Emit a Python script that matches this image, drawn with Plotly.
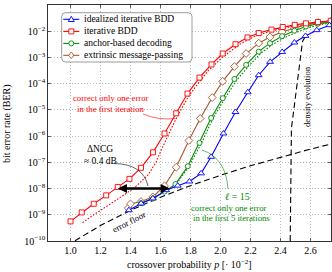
import plotly.graph_objects as go

# ---------------- data ----------------
p_ideal = [1.389, 1.471, 1.549, 1.638, 1.715, 1.793, 1.871, 1.938, 2.02, 2.10, 2.182,
           2.255, 2.331, 2.411, 2.493, 2.567, 2.642, 2.727]
ber_ideal = [1.5e-9, 2.7e-9, 4.2e-9, 8.7e-9, 1.29e-8, 1.86e-8, 3.8e-8, 1.62e-7, 1.26e-6,
             8.3e-6, 4.7e-5, 2.1e-4, 6.8e-4, 1.62e-3, 3.7e-3, 6.6e-3, 1.1e-2, 1.7e-2]

p_bdd = [1.0, 1.075, 1.155, 1.238, 1.315, 1.393, 1.47, 1.55, 1.627, 1.705, 1.78, 1.86,
         1.94, 2.015, 2.10, 2.18, 2.255, 2.34, 2.415, 2.495, 2.57, 2.65, 2.735]
ber_bdd = [5.6e-10, 1.23e-9, 2.63e-9, 5.5e-9, 1.15e-8, 2.34e-8, 6.2e-8, 2.4e-7, 1.26e-6,
           7.4e-6, 4.2e-5, 1.7e-4, 5.4e-4, 1.41e-3, 3.2e-3, 5.8e-3, 8.5e-3, 1.15e-2,
           1.45e-2, 1.74e-2, 2.0e-2, 2.24e-2, 2.5e-2]

p_bdd1 = [1.08, 1.155, 1.29, 1.42, 1.515, 1.57, 1.608, 1.646, 1.69, 1.736, 1.786, 1.85,
          1.92, 2.012, 2.13, 2.225, 2.335, 2.45, 2.56, 2.735]
ber_bdd1 = [5.0e-10, 1.0e-9, 3.2e-9, 1.0e-8, 3.2e-8, 1.0e-7, 3.2e-7, 1.0e-6, 3.2e-6,
            1.0e-5, 3.2e-5, 1.0e-4, 3.2e-4, 1.0e-3, 3.2e-3, 6.3e-3, 1.0e-2, 1.41e-2,
            1.78e-2, 2.1e-2]

p_anchor = [1.47, 1.55, 1.627, 1.70, 1.782, 1.86, 1.938, 2.015, 2.093, 2.171, 2.255,
            2.33, 2.411, 2.493, 2.57, 2.65, 2.735]
ber_anchor = [2.8e-9, 4.2e-9, 7.6e-9, 1.48e-8, 7.1e-8, 5.5e-7, 4.9e-6, 2.8e-5, 1.51e-4,
              5.2e-4, 1.66e-3, 3.5e-3, 6.5e-3, 1.05e-2, 1.51e-2, 1.95e-2, 2.24e-2]

p_anchor15 = [1.62, 1.70, 1.79, 1.875, 1.95, 2.03, 2.11, 2.19, 2.27, 2.35, 2.43, 2.51,
              2.59, 2.67, 2.735]
ber_anchor15 = [7.1e-9, 1.32e-8, 7.1e-8, 5.6e-7, 4.8e-6, 2.8e-5, 1.41e-4, 4.8e-4,
                1.45e-3, 3.2e-3, 5.8e-3, 9.3e-3, 1.38e-2, 1.78e-2, 2.04e-2]

p_emp = [1.385, 1.40, 1.47, 1.549, 1.627, 1.705, 1.789, 1.865, 1.945, 2.015, 2.093, 2.171,
         2.255, 2.33, 2.411, 2.493, 2.57, 2.65, 2.735]
ber_emp = [1.8e-9, 2.6e-9, 3.2e-9, 4.8e-9, 1.26e-8, 6.5e-8, 6.8e-7, 4.7e-6, 2.95e-5,
           1.23e-4, 4.5e-4, 1.41e-3, 3.5e-3, 6.0e-3, 9.3e-3, 1.32e-2, 1.78e-2, 2.14e-2,
           2.34e-2]

p_floor = [1.03, 1.2, 1.4, 1.6, 1.8, 2.0, 2.2, 2.4, 2.6, 2.737]
ber_floor = [1.02e-10, 3.9e-10, 1.48e-9, 4.7e-9, 1.29e-8, 3.2e-8, 7.4e-8, 1.58e-7,
             3.2e-7, 5.0e-7]

p_de = [2.465, 2.467, 2.469, 2.473, 2.497, 2.522, 2.547, 2.567]
ber_de = [1.0e-10, 3.6e-9, 1.2e-7, 2.0e-6, 2.3e-5, 3.2e-4, 4.1e-3, 6.5e-3]

x_ticks = [1.0, 1.2, 1.4, 1.6, 1.8, 2.0, 2.2, 2.4, 2.6]
x_labels = ["1.0", "1.2", "1.4", "1.6", "1.8", "2.0", "2.2", "2.4", "2.6"]
y_exps = [-10, -9, -8, -7, -6, -5, -4, -3, -2, -1]

names = ["idealized iterative BDD", "iterative BDD", "anchor-based decoding",
         "extrinsic message-passing"]

# ---------------- styles ----------------
BLUE, RED, GREEN, BROWN = "#0000ff", "#ff0000", "#008c00", "#a6562a"
FONT = "Liberation Serif"
W, H = 332, 272
ML, MR, MT, MB = 48, 1, 5, 31
PW, PH = W - ML - MR, H - MT - MB


def PX(px):
    return (px - ML) / PW


def PY(py):
    return (MT + PH - py) / PH


fig = go.Figure()


def curve(x, y, color, dash="solid", symbol=None, size=5, name=None):
    mode = "lines+markers" if symbol else "lines"
    fig.add_trace(go.Scatter(
        x=x, y=y, mode=mode, name=name,
        line=dict(color=color, width=1.1, dash=dash),
        marker=dict(symbol=symbol or "circle", size=size, color="white",
                    line=dict(color=color, width=0.9)),
        showlegend=False))


curve(p_floor, ber_floor, "black", dash="6px,3.5px")
curve(p_de, ber_de, "black", dash="6px,3.5px")
curve(p_bdd1, ber_bdd1, RED, dash="1.6px,1.6px")
curve(p_anchor15, ber_anchor15, GREEN, dash="1.6px,1.6px")
curve(p_emp, ber_emp, BROWN, symbol="diamond", size=6, name=names[3])
curve(p_anchor, ber_anchor, GREEN, symbol="circle", size=5, name=names[2])
curve(p_bdd, ber_bdd, RED, symbol="square", size=5, name=names[1])
curve(p_ideal, ber_ideal, BLUE, symbol="triangle-up", size=6, name=names[0])

shapes = []
annotations = []

# ---------------- manual compact legend ----------------
shapes.append(dict(type="path", xref="paper", yref="paper", layer="above",
                   path=("M {a},{b} L {c},{b} Q {d},{b} {d},{e} L {d},{f} Q {d},{g} {c},{g} "
                         "L {a},{g} Q {h},{g} {h},{f} L {h},{e} Q {h},{b} {a},{b} Z").format(
                       a=PX(65.5), c=PX(188), d=PX(192), h=PX(61.7),
                       b=PY(12.7), e=PY(16.5), f=PY(58.2), g=PY(62)),
                   fillcolor="white", line=dict(color="#707070", width=0.7)))
rows = [19.3, 31.4, 43.4, 55.3]
colors = [BLUE, RED, GREEN, BROWN]
for i, (row, col) in enumerate(zip(rows, colors)):
    shapes.append(dict(type="line", xref="paper", yref="paper", layer="above",
                       x0=PX(63.3), x1=PX(79.3), y0=PY(row), y1=PY(row),
                       line=dict(color=col, width=1.1)))
    common = dict(xref="paper", yref="paper", layer="above", xsizemode="pixel",
                  ysizemode="pixel", xanchor=PX(71.3), yanchor=PY(row),
                  fillcolor="white", line=dict(color=col, width=0.9))
    if i == 0:
        shapes.append(dict(type="path", path="M -3,-2.2 L 3,-2.2 L 0,3 Z", **common))
    elif i == 1:
        shapes.append(dict(type="rect", x0=-2.5, x1=2.5, y0=-2.5, y1=2.5, **common))
    elif i == 2:
        shapes.append(dict(type="circle", x0=-2.5, x1=2.5, y0=-2.5, y1=2.5, **common))
    else:
        shapes.append(dict(type="path", path="M 0,-3.3 L 2.6,0 L 0,3.3 L -2.6,0 Z", **common))
    annotations.append(dict(xref="paper", yref="paper", x=PX(81.5), y=PY(row),
                            xanchor="left", yanchor="middle", showarrow=False,
                            text=names[i], font=dict(family=FONT, size=9.5, color="black")))

# ---------------- annotations ----------------
def txt(x, y, s, color="black", size=8.7, angle=0):
    annotations.append(dict(xref="paper", yref="paper", x=PX(x), y=PY(y), text=s,
                            showarrow=False, xanchor="center", yanchor="middle",
                            textangle=angle, font=dict(family=FONT, size=size, color=color)))


txt(110.7, 98, "correct only one error", RED)
txt(110.7, 108.5, "in the first iteration", RED)
txt(100, 149, "ΔNCG", "black", 9.5)
txt(100, 161, "≈ 0.4 dB", "black", 9.5)
txt(237, 196, "<i>ℓ</i> = 15", GREEN, 10)
txt(229.3, 207.7, "correct only one error", GREEN)
txt(231, 218, "in the first 5 iterations", GREEN)
txt(307, 97, "density evolution", "black", 8.7, -90)
txt(129, 222, "error floor", "black", 8.7, -27)
# axis titles placed as text
txt(ML + PW / 2, 264, "crossover probability <i>p</i> [· 10<sup>−2</sup>]", "black", 10)
txt(7, 124, "bit error rate (BER)", "black", 10, -90)


def conn(x0, y0, cx, cy, x1, y1, color):
    shapes.append(dict(type="path", xref="paper", yref="paper", layer="above",
                       path="M {},{} Q {},{} {},{}".format(PX(x0), PY(y0), PX(cx), PY(cy),
                                                          PX(x1), PY(y1)),
                       line=dict(color=color, width=0.6)))


conn(143, 114, 158, 120.5, 175.5, 118.5, RED)
conn(114, 163.5, 143, 164, 148, 186, "black")
conn(202, 150, 226, 158, 228, 189, GREEN)

# delta NCG double arrow at BER = 1e-8
annotations.append(dict(x=1.316, y=-8, ax=1.672, ay=-8, xref="x", yref="y",
                        axref="x", ayref="y", text="", showarrow=True,
                        arrowhead=2, arrowside="end+start", arrowsize=0.7,
                        arrowwidth=2.6, arrowcolor="black"))

fig.update_layout(
    width=W, height=H, margin=dict(l=ML, r=MR, t=MT, b=MB, autoexpand=False),
    paper_bgcolor="white", plot_bgcolor="white", showlegend=False,
    font=dict(family=FONT, size=10, color="black"),
    shapes=shapes, annotations=annotations,
)
fig.update_xaxes(
    range=[0.85, 2.737], tickvals=x_ticks, ticktext=x_labels, automargin=False,
    showgrid=True, gridcolor="#a8a8a8", griddash="1px,2px", gridwidth=0.8,
    showline=True, mirror="ticks", linecolor="black", linewidth=0.8,
    ticks="inside", ticklen=3, tickcolor="black", tickwidth=0.6, zeroline=False,
    tickfont=dict(family=FONT, size=10),
)
fig.update_yaxes(
    type="log", range=[-10, -1], tickvals=[10.0 ** e for e in y_exps], automargin=False,
    ticktext=["10<sup>−%d</sup>" % (-e) for e in y_exps],
    showgrid=True, gridcolor="#a8a8a8", griddash="1px,2px", gridwidth=0.8,
    showline=True, mirror="ticks", linecolor="black", linewidth=0.8,
    ticks="inside", ticklen=3, tickcolor="black", tickwidth=0.6, zeroline=False,
    tickfont=dict(family=FONT, size=10),
)

fig.write_html("out.html", config={"displayModeBar": False, "staticPlot": True},
               post_script="document.body.style.margin='0';")
